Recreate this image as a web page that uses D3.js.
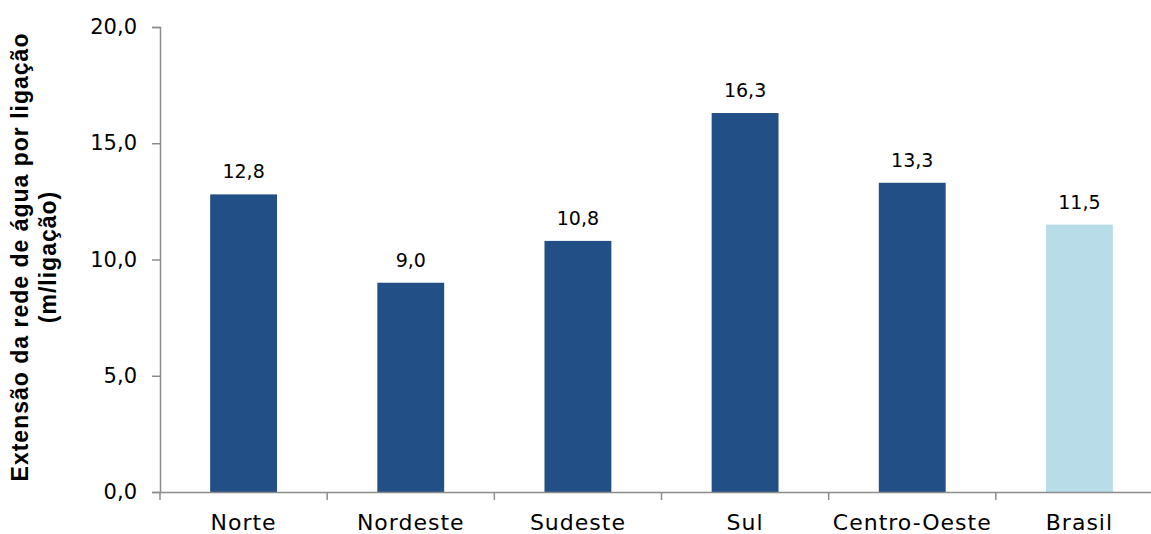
<!DOCTYPE html>
<html><head><meta charset="utf-8">
<script src="https://cdn.jsdelivr.net/npm/d3@7"></script>
<style>body{margin:0;background:#fff}svg{display:block}text{font-family:"DejaVu Sans",sans-serif;fill:#000}</style>
</head><body><svg id="c" width="1151" height="534"></svg>
<script>
const categories = ["Norte","Nordeste","Sudeste","Sul","Centro-Oeste","Brasil"];
const values = [12.8, 9.0, 10.8, 16.3, 13.3, 11.5];
const yTicks = [0, 5, 10, 15, 20];
const yTitle = ["Extensão da rede de água por ligação", "(m/ligação)"];

const svg = d3.select("#c");
const x = d3.scaleBand().domain(categories).range([160, 1163]).paddingInner(0.6).paddingOuter(0.3);
const y = d3.scaleLinear().domain([0, 20]).range([492, 27]);
const fmt = v => d3.format(".1f")(v).replace(".", ",");
const axisCol = "#8c8c8c";
const ff = '"DejaVu Sans",sans-serif';

// bars
svg.selectAll("rect.bar").data(values).join("rect")
  .attr("x", (d,i) => x(categories[i])).attr("width", x.bandwidth())
  .attr("y", d => y(d)).attr("height", d => y(0) - y(d))
  .attr("fill", (d,i) => categories[i] === "Brasil" ? "#b8dde8" : "#225086");

// value labels
svg.selectAll("text.val").data(values).join("text")
  .attr("x", (d,i) => x(categories[i]) + x.bandwidth()/2).attr("y", d => y(d) - 16)
  .attr("text-anchor", "middle").attr("font-size", 19).text(d => fmt(d));

// y axis
const ya = svg.append("g").attr("transform", "translate(160,0)")
  .call(d3.axisLeft(y).tickValues(yTicks).tickFormat(fmt).tickSize(8).tickPadding(15));
ya.select(".domain").attr("stroke", axisCol).attr("stroke-width", 1.5);
ya.selectAll(".tick line").attr("stroke", axisCol).attr("stroke-width", 1.5);
ya.selectAll(".tick text").attr("font-size", 21).style("font-family", ff).attr("fill", "#000");

// x axis
const xa = svg.append("g").attr("transform", "translate(0,492)")
  .call(d3.axisBottom(x).tickSize(0));
xa.select(".domain").attr("stroke", axisCol).attr("stroke-width", 1.5);
xa.selectAll(".tick text").attr("font-size", 22).attr("y", 38).attr("dy", 0)
  .style("letter-spacing", "1px").style("font-family", ff).attr("fill", "#000");
// category boundary ticks
const step = x.step();
const start = x(categories[0]) - x.paddingOuter() * step;
const bounds = d3.range(categories.length + 1).map(i => start + i * step);
svg.selectAll("line.bt").data(bounds).join("line")
  .attr("x1", d => d).attr("x2", d => d).attr("y1", 492).attr("y2", 500)
  .attr("stroke", axisCol).attr("stroke-width", 1.5);

// y title
const t = svg.append("text").attr("transform", "translate(28,257) rotate(-90)")
  .attr("text-anchor", "middle").attr("font-size", 23).attr("font-weight", "bold")
  .style("letter-spacing", "1px")
  .style("font-family", '"Liberation Sans",Arial,sans-serif');
t.append("tspan").attr("x", 0).attr("dy", 0).text(yTitle[0]);
t.append("tspan").attr("x", 0).attr("dy", 28).text(yTitle[1]);
</script></body></html>
